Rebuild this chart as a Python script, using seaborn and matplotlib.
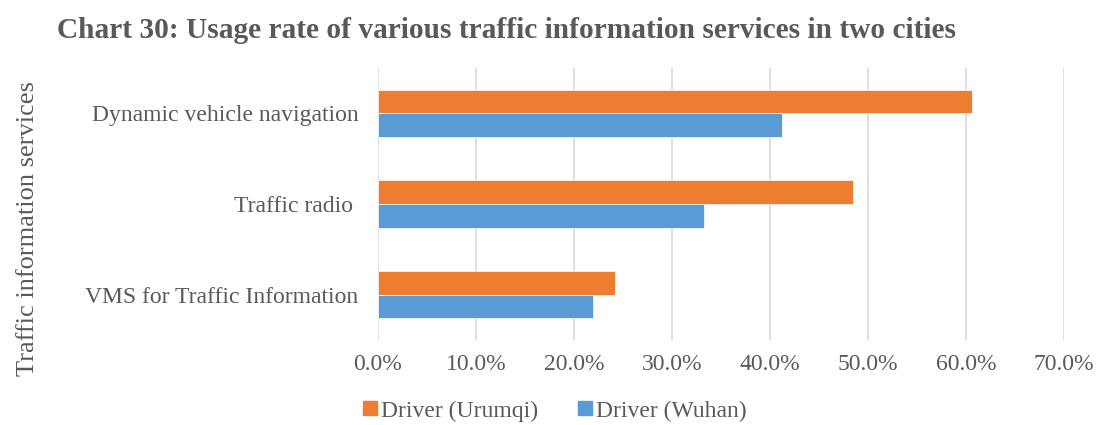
import matplotlib
matplotlib.use("Agg")
import matplotlib.pyplot as plt
import seaborn as sns
import pandas as pd
from matplotlib.ticker import FuncFormatter, MultipleLocator
from matplotlib.lines import Line2D

categories = ["Dynamic vehicle navigation", "Traffic radio ", "VMS for Traffic Information"]
urumqi = [60.6, 48.5, 24.2]
wuhan = [41.2, 33.3, 21.9]
series_names = ["Driver (Urumqi)", "Driver (Wuhan)"]
colors = ["#ED7D31", "#5B9BD5"]

rows = []
for c, u, w in zip(categories, urumqi, wuhan):
    rows.append({"cat": c, "series": series_names[0], "val": u})
    rows.append({"cat": c, "series": series_names[1], "val": w})
df = pd.DataFrame(rows)

sns.set_theme(style="white")
plt.rcParams["font.family"] = ["Liberation Serif", "DejaVu Serif"]
text_color = "#595959"

fig = plt.figure(figsize=(10.99, 4.25), dpi=100)
ax = fig.add_axes([378/1099, 1 - 340/425, (1064-378)/1099, (340-68)/425])

sns.barplot(data=df, y="cat", x="val", hue="series", order=categories,
            hue_order=series_names, palette=colors, orient="h",
            width=0.52, ax=ax, saturation=1, legend=False, errorbar=None,
            edgecolor="white", linewidth=0.5)

ax.set_xlim(0, 70)
ax.xaxis.set_major_locator(MultipleLocator(10))
ax.xaxis.set_major_formatter(FuncFormatter(lambda v, p: f"{v:.1f}%"))
ax.grid(axis="x", color="#D9D9D9", linewidth=1.2)
ax.set_axisbelow(True)
for s in ax.spines.values():
    s.set_visible(False)
ax.tick_params(axis="both", length=0, labelsize=17, colors=text_color)
ax.tick_params(axis="x", pad=10)
ax.tick_params(axis="y", pad=14)
ax.set_ylabel("")
ax.set_xlabel("")

fig.text(28/1099, 1 - 228/425, "Traffic information services", rotation=90,
         ha="center", va="center", fontsize=19, color=text_color)

fig.text(57/1099, 1 - 30/425,
         "Chart 30: Usage rate of various traffic information services in two cities",
         ha="left", va="center", fontsize=21.2, fontweight="bold", color=text_color)

handles = [Line2D([0], [0], marker="s", linestyle="none", markersize=10,
                  markerfacecolor=col, markeredgecolor=col) for col in colors]
leg = fig.legend(handles, series_names, loc="center", bbox_to_anchor=(553/1099, 1 - 411/425),
                 ncol=2, frameon=False, fontsize=17, handletextpad=0.05, columnspacing=1.5,
                 handlelength=0.9)
for t in leg.get_texts():
    t.set_color(text_color)

fig.savefig("out.png", dpi=100)
